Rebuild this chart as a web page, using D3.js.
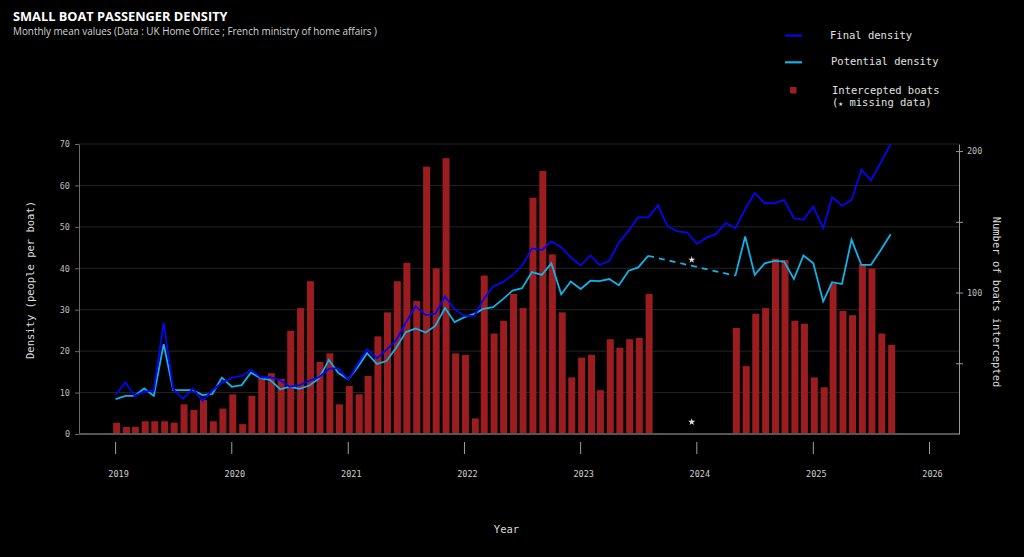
<!DOCTYPE html>
<html>
<head>
<meta charset="utf-8">
<script src="https://cdn.jsdelivr.net/npm/d3@7"></script>
<style>
  html, body { margin: 0; padding: 0; background: #000; }
  svg { display: block; }
</style>
</head>
<body>
<svg id="chart" width="1024" height="557"></svg>
<script>
// monthly values, Jan 2019 -> Sep 2025 (null = missing)
const firstMonth = [2019, 0]
const finalDensity = [
  9.4, 12.5, 9.2, 10.2, 10.5, 26.9, 10.8, 8.5, 11, 8, 10.5, 12.4,
  13.6, 14, 15.5, 13.7, 13.7, 13, 11.4, 11.8, 12.9, 13.7, 15.7, 15.9,
  13.1, 17, 20.5, 18.3, 20.3, 22.7, 26.9, 30.8, 28.7, 29, 33.2, 30.1,
  28.5, 28.5, 32.4, 35.6, 36.6, 38.4, 40.6, 44.8, 44.4, 46.5, 45.1, 42.6,
  40.7, 43.1, 40.8, 41.8, 46.2, 49.1, 52.3, 52.3, 55.2, 50.1, 48.9, 48.7,
  45.9, 47.4, 48.3, 50.9, 49.7, 54.3, 58.2, 55.7, 55.7, 56.5, 52.1, 51.7,
  54.9, 49.7, 57.2, 55.1, 56.5, 63.8, 61.2, 65.5, 70
]
const potentialDensity = [
  8.4, 9.2, 9.2, 11, 9.2, 21.7, 10.6, 10.6, 10.6, 9.4, 9.7, 13.6,
  11.4, 11.8, 14.8, 13.5, 13, 10.8, 11.4, 10.9, 11.7, 13.4, 17.9, 14.7,
  13.2, 16.3, 19.5, 16.9, 17.6, 20.9, 24.6, 25.5, 24.5, 26.1, 30.4, 27,
  28.2, 29, 30.2, 30.6, 32.5, 34.6, 35.2, 39.1, 38.4, 41.2, 33.7, 36.8,
  35, 37, 36.9, 37.4, 35.9, 39.4, 40.2, 43, null, null, null, null,
  null, null, null, null, 38.2, 47.7, 38.4, 41.2, 41.8, 41.6, 37.4, 43.1,
  41.2, 32, 36.6, 36.2, 46.9, 40.8, 40.8, 44.4, 48.2
]
const interceptedBoats = [
  8, 5, 5, 9, 9, 9, 8, 21, 17, 24, 9, 18,
  28, 7, 27, 40, 43, 39, 73, 89, 108, 51, 57, 21,
  34, 28, 41, 69, 86, 108, 121, 94, 189, 117, 195, 57,
  56, 11, 112, 71, 80, 99, 89, 167, 186, 127, 86, 40,
  54, 56, 31, 67, 61, 67, 68, 99, null, null, null, null,
  null, null, null, null, 75, 48, 85, 89, 124, 123, 80, 78,
  40, 33, 106, 87, 84, 120, 117, 71, 63
]
const yearTicks = [2019, 2020, 2021, 2022, 2023, 2024, 2025, 2026]
const densityTicks = [0, 10, 20, 30, 40, 50, 60, 70]
const boatTicks = [50, 100, 150, 200]
const boatTickLabels = [100, 200]

const mono = "'DejaVu Sans Mono', 'Liberation Mono', monospace"
const sans = "'Open Sans', 'Noto Sans', sans-serif"
const colFinal = '#0606f2', colPotential = '#10b2e8', colBoats = '#9b1d1f'

const svg = d3.select('#chart')
svg.append('rect').attr('width', 1024).attr('height', 557).attr('fill', '#000')

const rows = finalDensity.map((f, i) => ({
  date: new Date(firstMonth[0], firstMonth[1] + i, 1),
  final: f,
  potential: potentialDensity[i],
  boats: interceptedBoats[i],
}))

const plotL = 79, plotR = 959, plotT = 144, plotB = 434

const x = d3.scaleTime()
  .domain([new Date(yearTicks[0], 0, 1), new Date(yearTicks[yearTicks.length - 1], 0, 1)])
  .range([115.6, 929.5])
const yL = d3.scaleLinear().domain([0, 70]).range([plotB, plotT])
const yR = d3.scaleLinear().domain([0, 205]).range([plotB, plotT])

// grid
svg.append('g')
  .selectAll('line')
  .data(densityTicks)
  .join('line')
  .attr('x1', plotL).attr('x2', plotR)
  .attr('y1', (d) => yL(d)).attr('y2', (d) => yL(d))
  .attr('stroke', '#242424')

// bars
svg.append('g')
  .selectAll('rect')
  .data(rows.filter((d) => d.boats != null))
  .join('rect')
  .attr('x', (d) => x(d.date) - 2.5)
  .attr('width', 7)
  .attr('y', (d) => yR(d.boats))
  .attr('height', (d) => yR(0) - yR(d.boats))
  .attr('fill', colBoats)

// lines
const line = (key) => d3.line()
  .defined((d) => d[key] != null)
  .x((d) => x(d.date))
  .y((d) => yL(d[key]))

svg.append('path')
  .datum(rows)
  .attr('d', line('potential'))
  .attr('fill', 'none').attr('stroke', colPotential).attr('stroke-width', 1.8)

// dashed bridge over the missing months
const lastBefore = rows.findIndex((d) => d.potential == null) - 1
const firstAfter = rows.findIndex((d, i) => i > lastBefore + 1 && d.potential != null)
const gap = [rows[lastBefore], rows[firstAfter]]
svg.append('path')
  .datum(gap)
  .attr('d', line('potential'))
  .attr('fill', 'none').attr('stroke', colPotential).attr('stroke-width', 1.8)
  .attr('stroke-dasharray', '6,5')

svg.append('path')
  .datum(rows)
  .attr('d', line('final'))
  .attr('fill', 'none').attr('stroke', colFinal).attr('stroke-width', 1.8)

// stars marking missing data
const midDate = new Date((gap[0].date.getTime() + gap[1].date.getTime()) / 2)
const midY = (yL(gap[0].potential) + yL(gap[1].potential)) / 2
const star = d3.symbol().type(d3.symbolStar).size(16)
svg.append('g')
  .selectAll('path')
  .data([midY - 6, plotB - 12])
  .join('path')
  .attr('d', star)
  .attr('transform', (d) => `translate(${x(midDate)},${d})`)
  .attr('fill', '#e0e0e0')

// left axis
const axL = svg.append('g')
  .attr('transform', `translate(${plotL},0)`)
  .call(d3.axisLeft(yL).tickValues(densityTicks).tickSize(4).tickSizeOuter(0).tickPadding(5))
axL.select('.domain').attr('stroke', '#6a6a6a')
axL.selectAll('.tick line').attr('stroke', '#6a6a6a')
axL.selectAll('text').attr('fill', '#bdbdbd').style('font-family', mono).style('font-size', '8.5px')

// right axis
const axR = svg.append('g')
  .attr('transform', `translate(${plotR},0)`)
  .call(d3.axisRight(yR).tickValues(boatTicks).tickSize(4).tickSizeOuter(0).tickPadding(4)
    .tickFormat((d) => (boatTickLabels.includes(d) ? d : '')))
axR.select('.domain').attr('stroke', '#9a9a9a')
axR.selectAll('.tick line').attr('stroke', '#9a9a9a').attr('x1', -3)
axR.selectAll('text').attr('fill', '#bdbdbd').style('font-family', mono).style('font-size', '8.5px')

// bottom axis line
svg.append('line')
  .attr('x1', plotL).attr('x2', plotR)
  .attr('y1', plotB).attr('y2', plotB)
  .attr('stroke', '#555').attr('stroke-width', 2)

// year ticks
const yearG = svg.append('g')
  .selectAll('g')
  .data(yearTicks)
  .join('g')
  .attr('transform', (d) => `translate(${x(new Date(d, 0, 1))},0)`)
yearG.append('line').attr('y1', 442).attr('y2', 454).attr('stroke', '#a0a0a0')
yearG.append('text')
  .attr('x', 3).attr('y', 476.7)
  .attr('text-anchor', 'middle')
  .attr('fill', '#d0d0d0')
  .style('font-family', mono).style('font-size', '8.5px')
  .text((d) => d)

// axis titles
svg.append('text')
  .attr('x', 506.5).attr('y', 532.5)
  .attr('text-anchor', 'middle').attr('fill', '#dcdcdc')
  .style('font-family', mono).style('font-size', '10.5px')
  .text('Year')
svg.append('text')
  .attr('transform', 'translate(30,280) rotate(-90)')
  .attr('text-anchor', 'middle').attr('dominant-baseline', 'central').attr('fill', '#dcdcdc')
  .style('font-family', mono).style('font-size', '10.5px')
  .text('Density (people per boat)')
svg.append('text')
  .attr('transform', 'translate(997,302) rotate(90)')
  .attr('text-anchor', 'middle').attr('dominant-baseline', 'central').attr('fill', '#dcdcdc')
  .style('font-family', mono).style('font-size', '10.5px')
  .text('Number of boats intercepted')

// title
svg.append('text')
  .attr('x', 13).attr('y', 20.5)
  .attr('fill', '#fff')
  .style('font-family', sans).style('font-size', '12.8px').style('font-weight', 700)
  .text('SMALL BOAT PASSENGER DENSITY')
svg.append('text')
  .attr('x', 13).attr('y', 34.5)
  .attr('fill', '#d4d4d4')
  .style('font-family', sans).style('font-size', '9.9px')
  .text('Monthly mean values (Data : UK Home Office ; French ministry of home affairs )')

// legend
const legend = svg.append('g').style('font-family', mono).style('font-size', '10.5px')
legend.append('line').attr('x1', 785).attr('x2', 802).attr('y1', 35.5).attr('y2', 35.5)
  .attr('stroke', colFinal).attr('stroke-width', 2.2)
legend.append('text').attr('x', 830).attr('y', 38.5).attr('fill', '#e2e2e2').text('Final density')
legend.append('line').attr('x1', 785).attr('x2', 802).attr('y1', 62.3).attr('y2', 62.3)
  .attr('stroke', colPotential).attr('stroke-width', 2.2)
legend.append('text').attr('x', 831).attr('y', 65.3).attr('fill', '#e2e2e2').text('Potential density')
legend.append('rect').attr('x', 790).attr('y', 87).attr('width', 6.5).attr('height', 6.5).attr('fill', colBoats)
legend.append('text').attr('x', 832).attr('y', 94).attr('fill', '#e2e2e2').text('Intercepted boats')
const missing = legend.append('text').attr('x', 832).attr('y', 106).attr('fill', '#e2e2e2')
missing.append('tspan').text('(')
missing.append('tspan').style('font-size', '8px').attr('dy', -0.5).text('★')
missing.append('tspan').attr('dy', 0.5).text(' missing data)')
</script>
</body>
</html>
